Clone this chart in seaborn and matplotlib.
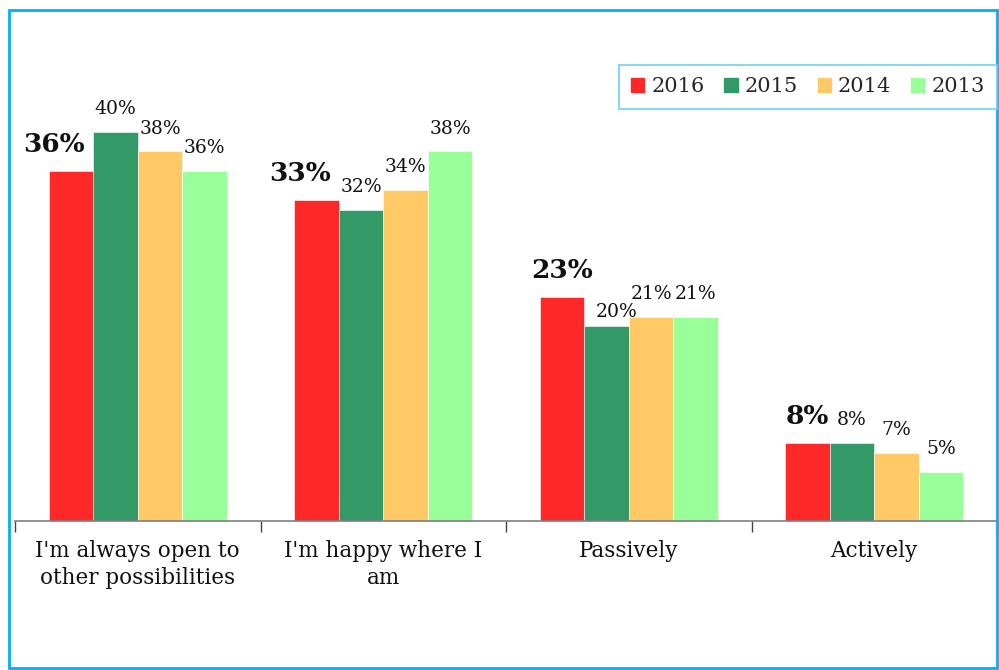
import numpy as np
import pandas as pd
import seaborn as sns
import matplotlib.pyplot as plt
from matplotlib.patches import Rectangle

# data
categories = ["I'm always open to\nother possibilities", "I'm happy where I\nam",
              "Passively", "Actively"]
years = ["2016", "2015", "2014", "2013"]
v2016 = [36, 33, 23, 8]
v2015 = [40, 32, 20, 8]
v2014 = [38, 34, 21, 7]
v2013 = [36, 38, 21, 5]

colors = ["#FF2828", "#339966", "#FFCA66", "#99FF99"]

rows = []
for year, vals in zip(years, [v2016, v2015, v2014, v2013]):
    for cat, v in zip(categories, vals):
        rows.append({"category": cat, "year": year, "value": v})
df = pd.DataFrame(rows)

sns.set_theme(style="white")
plt.rcParams['font.family'] = ['DejaVu Serif']

fig = plt.figure(figsize=(9.99, 6.70), dpi=100)
ax = fig.add_axes([15 / 999, 149 / 670, 982 / 999, 481 / 670])

sns.barplot(data=df, x="category", y="value", hue="year", hue_order=years,
            palette=colors, width=0.727, saturation=1, ax=ax, legend=False,
            edgecolor="white", linewidth=0.4)

ax.set_ylim(0, 49.46)
ax.set_xlim(-0.5, 3.5)
ax.set_xlabel("")
ax.set_ylabel("")
ax.set_yticks([])
for s in ["top", "right", "left"]:
    ax.spines[s].set_visible(False)
ax.spines["bottom"].set_color("#7f7f7f")
ax.spines["bottom"].set_linewidth(1.2)

# ticks at category boundaries, labels at centres
ax.set_xticks(np.arange(-0.5, 4, 1), minor=False)
ax.set_xticklabels([""] * 5)
ax.tick_params(axis="x", which="major", direction="out", length=8,
               color="#444444", width=1, bottom=True)
ax.set_xticks(np.arange(4), minor=True)
ax.set_xticklabels(categories, minor=True, fontsize=15.5, color="#111111",
                   linespacing=1.25)
ax.tick_params(axis="x", which="minor", length=0, pad=14)

# value labels (2016 bold and bigger); key = (category index, series index)
nudges = {(0, 0): (-17, 0), (1, 0): (-16, 0), (2, 1): (10, -8)}
for j, cont in enumerate(ax.containers):
    for i, bar in enumerate(cont):
        h = bar.get_height()
        dx, dy = nudges.get((i, j), (0, 0))
        x = bar.get_x() + bar.get_width() / 2
        if j == 0:
            ax.annotate(f"{int(h)}%", (x, h), xytext=(dx * 0.72, 10 + dy * 0.72),
                        textcoords="offset points", ha="center", va="bottom",
                        fontsize=19, fontweight="bold", color="#111111")
        else:
            ax.annotate(f"{int(h)}%", (x, h), xytext=(dx * 0.72, 10 + dy * 0.72),
                        textcoords="offset points", ha="center", va="bottom",
                        fontsize=13.5, color="#111111")

# legend
handles = [Rectangle((0, 0), 1, 1, color=c) for c in colors]
leg = fig.legend(handles, years, loc="upper right", ncol=4,
                 bbox_to_anchor=(997 / 999, 1 - 65 / 670), borderaxespad=0,
                 frameon=True, fancybox=False, fontsize=15,
                 handlelength=0.63, handleheight=0.63, handletextpad=0.34,
                 columnspacing=0.95, borderpad=0.6)
leg.get_frame().set_edgecolor("#6CCFF0")
leg.get_frame().set_linewidth(1.5)

# outer frame
fig.patches.append(Rectangle((9 / 999, 2 / 670), 988 / 999, 658 / 670,
                             transform=fig.transFigure, fill=False,
                             edgecolor="#00B0F0", linewidth=2))

fig.savefig("out.png", dpi=100)
